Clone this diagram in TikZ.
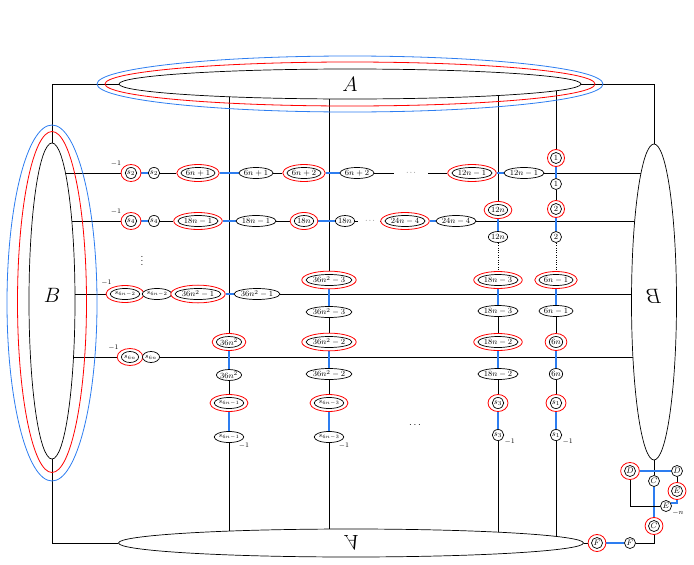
\documentclass[tikz,border=0pt]{standalone}
\usetikzlibrary{shapes.geometric,backgrounds}
\definecolor{linkblue}{RGB}{45,125,240}
\newcommand{\rgen}[4][]{%
  \node[ring,#1] (#2o) at (#3) {\phantom{#4}};
  \node[gnode,#1] (#2) at (#3) {#4};}

\begin{document}
\begin{tikzpicture}[x=1pt, y=-1pt, line width=0.7pt,
    gnode/.style={draw, ellipse, fill=white, font=\footnotesize, inner xsep=0pt, inner ysep=0pt, minimum width=11pt, minimum height=11pt},
    ring/.style={draw=red, line width=0.8pt, ellipse, fill=white, font=\footnotesize, inner xsep=3pt, inner ysep=2.5pt, minimum width=17pt, minimum height=17pt},
    big/.style={draw, ellipse, fill=white, font=\huge, inner sep=0pt},
    halo/.style={draw=#1, line width=0.8pt, ellipse, inner sep=0pt},
    lnk/.style={draw=linkblue, line width=1.2pt},
    lab/.style={font=\scriptsize, inner sep=1pt}]
  \useasboundingbox (0,0) rectangle (694,565);

  % the four big ellipses
  \node[big, minimum width=462pt, minimum height=30pt] (A) at (350,84) {$A$};
  \node[halo=red, minimum width=490pt, minimum height=44pt] (Ar) at (350,84) {};
  \node[halo=linkblue, minimum width=506pt, minimum height=56pt] (Ab) at (350,84) {};
  \node[big, minimum width=46pt, minimum height=316pt] (B) at (52,301) {\raisebox{12pt}{$B$}};
  \node[halo=red, minimum width=69pt, minimum height=341pt] (Br) at (52,302) {};
  \node[halo=linkblue, minimum width=90pt, minimum height=356pt] (Bb) at (52,303) {};
  \node[big, minimum width=45pt, minimum height=316pt] (Bm) at (654,302) {\reflectbox{\raisebox{12pt}{$B$}}};
  \node[big, minimum width=465pt, minimum height=28pt] (V) at (351,543) {\scalebox{1}[-1]{$A$}};

  % rows
  \rgen{s2}{131,173}{$s_2$}
  \node[gnode] (s2b) at (154,173) {$s_2$};
  \rgen{p1}{198,173}{$6n+1$}
  \node[gnode] (p1b) at (256,173) {$6n+1$};
  \rgen{p2}{304,173}{$6n+2$}
  \node[gnode] (p2b) at (357,173) {$6n+2$};
  \node[font=\scriptsize, minimum width=34pt] (dA) at (411,173) {$\cdots$};
  \rgen{q}{472,173}{$12n-1$}
  \node[gnode] (qb) at (524,173) {$12n-1$};

  \rgen{s4}{131,221}{$s_4$}
  \node[gnode] (s4b) at (154,221) {$s_4$};
  \rgen{t1}{198,221}{$18n-1$}
  \node[gnode] (t1b) at (256,221) {$18n-1$};
  \rgen{t2}{304,221}{$18n$}
  \node[gnode] (t2b) at (345,221) {$18n$};
  \node[font=\scriptsize, minimum width=24pt] (dB) at (370,221) {$\cdots$};
  \rgen{t3}{405,221}{$24n-4$}
  \node[gnode] (t3b) at (456,221) {$24n-4$};

  \node (vd) at (142,258) {$\vdots$};

  \rgen[font=\scriptsize]{u}{125,294}{$s_{6n-2}$}
  \node[gnode, font=\scriptsize] (ub) at (157,294) {$s_{6n-2}$};
  \rgen{v}{198,294}{$36n^2-1$}
  \node[gnode] (vb) at (257,294) {$36n^2-1$};

  \rgen[font=\scriptsize]{w}{130,357}{$s_{6n}$}
  \node[gnode, font=\scriptsize] (wb) at (151,357) {$s_{6n}$};

  \foreach \n in {s2o, s4o, uo, wo}
    \node[lab, anchor=south east] (l\n) at (\n.150) {$-1$};

  % columns
  \rgen{k1}{229,342}{$36n^2$}
  \node[gnode] (k1b) at (229,375) {$36n^2$};
  \rgen[font=\scriptsize]{k2}{229,403}{$s_{6n-1}$}
  \node[gnode, font=\scriptsize] (k2b) at (229,437) {$s_{6n-1}$};

  \rgen{m1}{329,280}{$36n^2-3$}
  \node[gnode] (m1b) at (329,312) {$36n^2-3$};
  \rgen{m2}{329,342}{$36n^2-2$}
  \node[gnode] (m2b) at (329,374) {$36n^2-2$};
  \rgen[font=\scriptsize]{m3}{329,403}{$s_{6n-3}$}
  \node[gnode, font=\scriptsize] (m3b) at (329,437) {$s_{6n-3}$};

  \rgen{h1}{498,210}{$12n$}
  \node[gnode] (h1b) at (498,237) {$12n$};
  \rgen{h2}{498,280}{$18n-3$}
  \node[gnode] (h2b) at (498,311) {$18n-3$};
  \rgen{h3}{498,342}{$18n-2$}
  \node[gnode] (h3b) at (498,374) {$18n-2$};
  \rgen{h4}{498,403}{$s_3$}
  \node[gnode] (h4b) at (498,435) {$s_3$};

  \rgen{g1}{556,158}{$1$}
  \node[gnode] (g1b) at (556,184) {$1$};
  \rgen{g2}{556,209}{$2$}
  \node[gnode] (g2b) at (556,237) {$2$};
  \rgen{g3}{556,280}{$6n-1$}
  \node[gnode] (g3b) at (556,311) {$6n-1$};
  \rgen{g4}{556,342}{$6n$}
  \node[gnode] (g4b) at (556,374) {$6n$};
  \rgen{g5}{556,403}{$s_1$}
  \node[gnode] (g5b) at (556,435) {$s_1$};

  \foreach \n in {k2b, m3b, h4b, g5b}
    \node[lab, anchor=north west] (l\n) at (\n.-30) {$-1$};
  \node (cd) at (415,425) {$\cdots$};

  % corner piece
  \rgen{D}{630,471}{$D$}
  \node[gnode] (Db) at (677,471) {$D$};
  \node[gnode] (Cb) at (654,481) {$C$};
  \rgen{E}{677,491}{$E$}
  \node[gnode] (Eb) at (666,506) {$E$};
  \node[lab, anchor=north west] (lEb) at (Eb.-30) {$-n$};
  \rgen{C}{654,526}{$C$}
  \node[gnode] (Fb) at (630,543) {$F$};
  \rgen{F}{597,543}{$F$}

  \begin{pgfonlayer}{background}
    \draw (A.west) -- (B.center |- A.west) -- (B.north);
    \draw (A.east) -- (Bm.center |- A.east) -- (Bm.north);
    \draw (B.south) -- (B.center |- V.west) -- (V.west);
    \foreach \n in {s2o, s4o, uo, wo}
      \draw (\n) -- (B.center |- \n);
    \foreach \n in {qb, t3b, vb, wb}
      \draw (\n) -- (Bm.center |- \n);
    \foreach \n in {k1o, m1o, h1o, g1o}
      \draw (\n) -- (A.center -| \n);
    \foreach \n in {k2b, m3b, h4b, g5b}
      \draw (\n) -- (V.center -| \n);
    \foreach \a/\b in {s2b/p1o, p1b/p2o, p2b/dA, dA/qo, s4b/t1o, t1b/t2o, t2b/dB, dB/t3o, ub/vo,
        k1b/k2o, m1b/m2o, m2b/m3o, h2b/h3o, h3b/h4o, g1b/g2o, g3b/g4o, g4b/g5o, Db/Eo, Bm/Cb, Fo/V}
      \draw (\a) -- (\b);
    \foreach \a/\b in {h1b/h2o, g2b/g3o}
      \draw[dotted] (\a) -- (\b);
    \foreach \a/\b in {s2o/s2b, p1o/p1b, p2o/p2b, qo/qb, s4o/s4b, t1o/t1b, t2o/t2b, t3o/t3b, uo/ub, vo/vb, wo/wb,
        k1o/k1b, k2o/k2b, m1o/m1b, m2o/m2b, m3o/m3b, h1o/h1b, h2o/h2b, h3o/h3b, h4o/h4b,
        g1o/g1b, g2o/g2b, g3o/g3b, g4o/g4b, g5o/g5b, Do/Db, Cb/Co, Fb/Fo}
      \draw[lnk] (\a) -- (\b);
    \draw (Co) |- (Fb);
    \draw[lnk] (Eo) |- (Eb.30);
    \draw (Eb) -| (Do);
  \end{pgfonlayer}
\end{tikzpicture}
\end{document}
